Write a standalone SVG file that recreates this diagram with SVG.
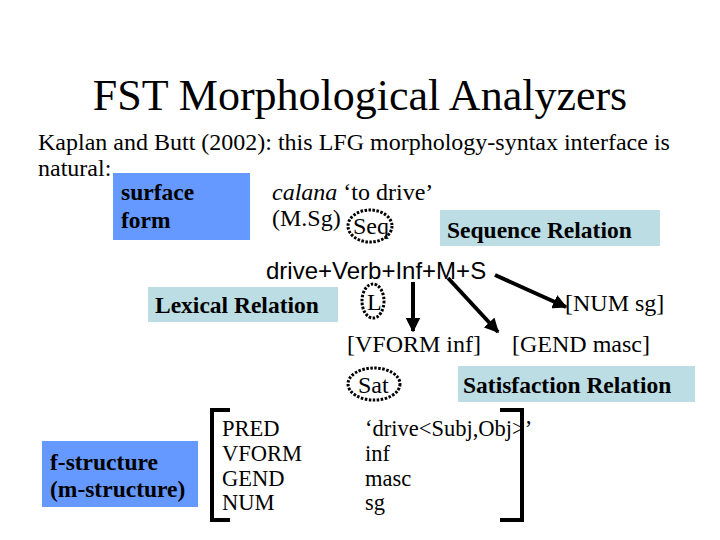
<svg xmlns="http://www.w3.org/2000/svg" width="720" height="540" viewBox="0 0 720 540">
<defs>
<marker id="ah" viewBox="0 0 10 10" refX="9" refY="5" markerWidth="3.6" markerHeight="3.6" orient="auto" markerUnits="strokeWidth">
<path d="M0,0 L10,5 L0,10 z" fill="#000"/>
</marker>
<style>
.t{font-family:"Liberation Serif","Times New Roman",serif;font-size:24px;fill:#000}
.m{font-family:"Liberation Serif","Times New Roman",serif;font-size:22.5px;fill:#000}
.b{font-family:"Liberation Serif","Times New Roman",serif;font-size:23.5px;font-weight:bold;fill:#000}
.a{font-family:"Liberation Sans",Arial,sans-serif;font-size:24px;fill:#000}
.blue{fill:#6699FF}
.cyan{fill:#BBDDE3}
.dot{fill:none;stroke:#000;stroke-width:3;stroke-dasharray:2.5 1.5}
.arr{stroke:#000;stroke-width:4;fill:none;marker-end:url(#ah)}
.br{stroke:#000;stroke-width:4;fill:none}
</style>
</defs>
<rect width="720" height="540" fill="#fff"/>
<text x="360" y="110" text-anchor="middle" style="font-family:'Liberation Serif','Times New Roman',serif;font-size:44px">FST Morphological Analyzers</text>
<text class="t" x="38" y="150">Kaplan and Butt (2002): this LFG morphology-syntax interface is</text>
<text class="t" x="38" y="176">natural:</text>
<g id="surface">
<rect class="blue" x="113" y="173" width="137" height="67"/>
<text class="b" x="121" y="200">surface</text>
<text class="b" x="121" y="228">form</text>
</g>
<g id="calana">
<text class="t" x="272" y="200"><tspan font-style="italic">calana</tspan> ‘to drive’</text>
<text class="t" x="272" y="226">(M.Sg)</text>
</g>
<g id="seq">
<ellipse class="dot" cx="370" cy="226" rx="22" ry="16"/>
<text class="t" x="353" y="234">Seq</text>
</g>
<g id="seqrel">
<rect class="cyan" x="440" y="210" width="220" height="36"/>
<text class="b" x="447" y="238">Sequence Relation</text>
</g>
<g id="analysis">
<text class="a" x="266" y="279">drive+Verb+Inf+M+S</text>
</g>
<g id="lexrel">
<rect class="cyan" x="148" y="287" width="190" height="35"/>
<text class="b" x="155" y="313">Lexical Relation</text>
</g>
<g id="L">
<ellipse class="dot" cx="373" cy="301" rx="11" ry="17"/>
<text class="t" x="367" y="310">L</text>
</g>
<g id="num">
<text class="t" x="565" y="311">[NUM sg]</text>
</g>
<g id="vform">
<text class="t" x="347" y="352">[VFORM inf]</text>
</g>
<g id="gend">
<text class="t" x="512" y="352">[GEND masc]</text>
</g>
<g id="sat">
<ellipse class="dot" cx="374" cy="384" rx="26" ry="16"/>
<text class="t" x="358" y="393">Sat</text>
</g>
<g id="satrel">
<rect class="cyan" x="458" y="366" width="237" height="36"/>
<text class="b" x="463" y="393">Satisfaction Relation</text>
</g>
<g id="fstruct">
<rect class="blue" x="42" y="441" width="156" height="66"/>
<text class="b" x="50" y="470">f-structure</text>
<text class="b" x="50" y="497">(m-structure)</text>
</g>
<g id="matrix">
<path class="br" d="M230,410 L212,410 L212,520 L230,520"/>
<path class="br" d="M500,410 L522,410 L522,520 L500,520"/>
<text class="m" x="222" y="436">PRED</text>
<text class="m" x="222" y="461">VFORM</text>
<text class="m" x="222" y="486">GEND</text>
<text class="m" x="222" y="510">NUM</text>
<text class="m" x="365" y="436">‘drive&lt;Subj,Obj&gt;’</text>
<text class="m" x="365" y="461">inf</text>
<text class="m" x="365" y="486">masc</text>
<text class="m" x="365" y="510">sg</text>
</g>
<g id="connectors">
<line class="arr" x1="413" y1="282" x2="413" y2="331"/>
<line class="arr" x1="448" y1="278" x2="498" y2="332"/>
<line class="arr" x1="495" y1="275" x2="566" y2="307"/>
</g>
</svg>
